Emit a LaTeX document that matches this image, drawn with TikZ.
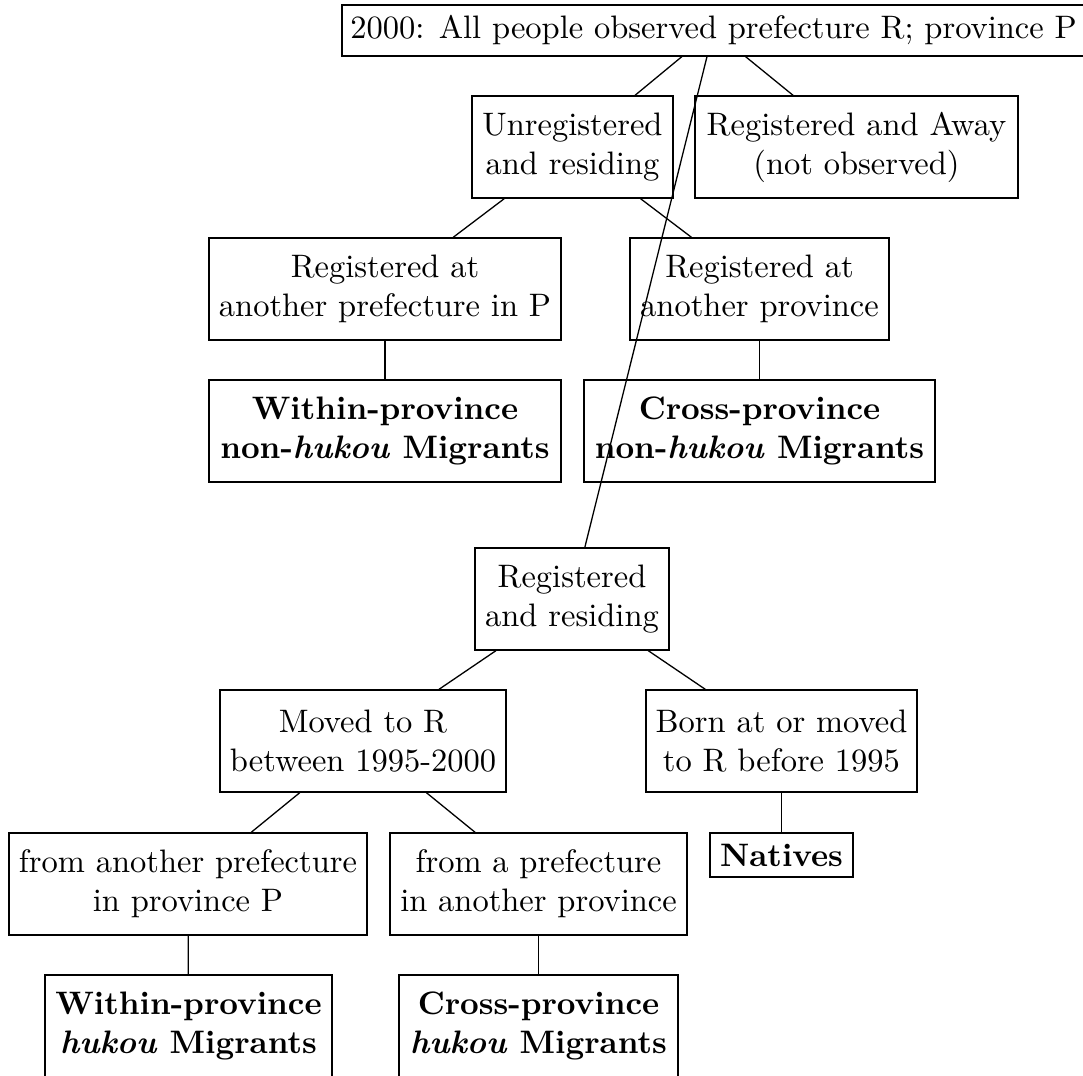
\documentclass[tikz,border=0pt]{standalone}
\begin{document}
\begin{tikzpicture}[x=0.3077pt,y=-0.3077pt,
  box/.style 2 args={draw,align=center,inner sep=0pt,
    minimum width=#1*0.3077pt,minimum height=#2*0.3077pt},
  conn/.style={line width=0.4pt}]
\clip (0,0) rectangle (1083,1076);
\node[box={743}{51}] (top) at (713.5,30.5) {2000: All people observed prefecture R; province P};
\node[box={201}{102}] (unreg) at (572.5,147) {Unregistered\\and residing};
\node[box={323}{102}] (away) at (856.5,147) {Registered and Away\\(not observed)};
\node[box={352}{102}] (regpref) at (385,289) {Registered at\\another prefecture in P};
\node[box={259}{102}] (regprov) at (759.5,289) {Registered at\\another province};
\node[box={352}{102}] (within1) at (385,431) {\textbf{Within-province}\\\textbf{non-\textit{hukou} Migrants}};
\node[box={351}{102}] (cross1) at (759.5,431) {\textbf{Cross-province}\\\textbf{non-\textit{hukou} Migrants}};
\node[box={194}{102}] (regres) at (572,599) {Registered\\and residing};
\node[box={286}{102}] (moved) at (363,741) {Moved to R\\between 1995-2000};
\node[box={271}{102}] (born) at (781.5,741) {Born at or moved\\to R before 1995};
\node[box={143}{44}] (natives) at (781.5,855) {\textbf{Natives}};
\node[box={358}{102}] (fromP) at (188,884) {from another prefecture\\in province P};
\node[box={297}{102}] (fromO) at (538.5,884) {from a prefecture\\in another province};
\node[box={287}{102}] (within2) at (188.5,1026) {\textbf{Within-province}\\\textbf{\textit{hukou} Migrants}};
\node[box={279}{102}] (cross2) at (538.5,1026) {\textbf{Cross-province}\\\textbf{\textit{hukou} Migrants}};
\draw[conn] (top) -- (unreg);
\draw[conn] (top) -- (away);
\draw[conn] (top) -- (regres);
\draw[conn] (unreg) -- (regpref);
\draw[conn] (unreg) -- (regprov);
\draw[conn] (regpref) -- (within1);
\draw[conn] (regprov) -- (cross1);
\draw[conn] (regres) -- (moved);
\draw[conn] (regres) -- (born);
\draw[conn] (born) -- (natives);
\draw[conn] (moved) -- (fromP);
\draw[conn] (moved) -- (fromO);
\draw[conn] (fromP) -- (within2);
\draw[conn] (fromO) -- (cross2);
\end{tikzpicture}
\end{document}
